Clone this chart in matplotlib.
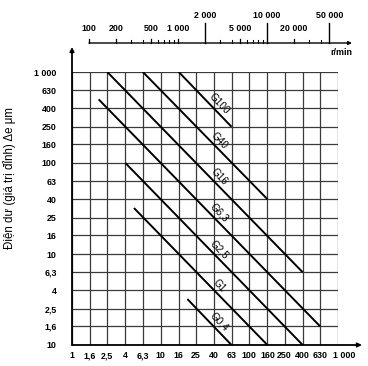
import numpy as np
import matplotlib
matplotlib.use("Agg")
import matplotlib.pyplot as plt
from matplotlib.transforms import ScaledTranslation

# axis ticks (log grid, 5 steps per decade)
tick_vals = [1, 1.6, 2.5, 4, 6.3, 10, 16, 25, 40, 63, 100, 160, 250, 400, 630, 1000]
x_labels = ["1", "1,6", "2,5", "4", "6,3", "10", "16", "25", "40", "63", "100", "160", "250", "400", "630", "1 000"]
y_labels = ["10", "1,6", "2,5", "4", "6,3", "10", "16", "25", "40", "63", "100", "160", "250", "400", "630", "1 000"]

# balance grade lines (start / end points)
grades = ["G100", "G40", "G16", "G6,3", "G2,5", "G1", "G0,4"]
x_start = [16, 6.3, 2.5, 2, 4, 5, 20]
y_start = [1000, 1000, 1000, 500, 100, 32, 3.2]
x_end = [63, 160, 400, 630, 400, 160, 63]
y_end = [250, 40, 6.3, 1.6, 1, 1, 1]
label_x = 40

# top speed scale r/min
rpm_major = [100, 200, 500, 1000, 5000, 20000]
rpm_long = [2000, 10000, 50000]
rpm_minor = [300, 400, 600, 700, 800, 900, 3000, 4000, 6000, 7000, 8000, 9000, 30000, 40000]
rpm_low_labels = ["100", "200", "500", "1 000", "5 000", "20 000"]
rpm_high_labels = ["2 000", "10 000", "50 000"]

W, H = 368, 366
fig = plt.figure(figsize=(W / 100, H / 100), dpi=100)
tf = dict(family="Liberation Sans", size=6.4, weight="bold")

# main chart, pixel box: x 72..338, y 72..345 (from top)
L, R, T, B = 72, 338, 72, 345
ax = fig.add_axes([L / W, (H - B) / H, (R - L) / W, (B - T) / H])
ax.set_xscale("log")
ax.set_yscale("log")
ax.set_xlim(1, 1000)
ax.set_ylim(1, 1000)
ax.xaxis.set_minor_locator(plt.NullLocator())
ax.yaxis.set_minor_locator(plt.NullLocator())
ax.set_xticks(tick_vals)
ax.set_xticklabels(x_labels, fontdict=tf)
ax.set_yticks(tick_vals)
ax.set_yticklabels(y_labels, fontdict=tf)
ax.tick_params(length=0)
ax.tick_params(axis="x", pad=4.5)
ax.tick_params(axis="y", pad=11)
# "1 000" sits a bit right of its grid line in the original
lab = ax.xaxis.get_major_ticks()[-1].label1
lab.set_transform(lab.get_transform() + ScaledTranslation(6 / 100, 0, fig.dpi_scale_trans))
for v in tick_vals:
    ax.axvline(v, color="#3a3a3a", lw=0.9, zorder=1)
    ax.axhline(v, color="#3a3a3a", lw=0.9, zorder=1)
for s in ax.spines.values():
    s.set_visible(False)

# axes with arrows
ax.annotate("", xy=(0, 1 + 25 / (B - T)), xytext=(0, 0), xycoords="axes fraction",
            arrowprops=dict(arrowstyle="-|>", color="black", lw=1.3, mutation_scale=6,
                            shrinkA=0, shrinkB=0), annotation_clip=False)
ax.annotate("", xy=(1 + 24 / (R - L), 0), xytext=(0, 0), xycoords="axes fraction",
            arrowprops=dict(arrowstyle="-|>", color="black", lw=1.3, mutation_scale=6,
                            shrinkA=0, shrinkB=0), annotation_clip=False)

for g, xs, ys, xe, ye in zip(grades, x_start, y_start, x_end, y_end):
    ax.plot([xs, xe], [ys, ye], color="black", lw=1.4, zorder=3, solid_capstyle="butt")
    ly = ys * xs / label_x
    ax.annotate(g, xy=(label_x, ly), xytext=(0.9, 0.9), textcoords="offset points",
                rotation=-46, rotation_mode="anchor", ha="center", va="bottom",
                family="Liberation Sans", size=7.2, zorder=4)

ax.set_ylabel("Điện dư (giá trị đỉnh) Δe μm", family="Liberation Sans", size=8.3)
ax.yaxis.set_label_coords(-(72 - 16) / (R - L), (B - 178) / (B - T))

# top scale r/min, pixel rows 10..50 from top
ax2 = fig.add_axes([L / W, (H - 50) / H, (R - L) / W, 40 / H])
ax2.set_xscale("log")
ppd = (267 - 89) / 2.0
ax2.set_xlim(100 * 10 ** (-(89 - L) / ppd), 100 * 10 ** ((R - 89) / ppd))
ax2.set_ylim(50, 10)
ax2.axis("off")
x_tip = 100 * 10 ** ((352 - 89) / ppd)
ax2.annotate("", xy=(x_tip, 43), xytext=(100, 43), xycoords="data",
             arrowprops=dict(arrowstyle="-|>", color="black", lw=1.0, mutation_scale=5,
                             shrinkA=0, shrinkB=0), annotation_clip=False)
for v in rpm_long:
    ax2.plot([v, v], [43, 23], color="black", lw=1.0, clip_on=False)
for v in rpm_major:
    ax2.plot([v, v], [43, 38.5], color="black", lw=0.9, clip_on=False)
for v in rpm_minor:
    ax2.plot([v, v], [43, 40], color="black", lw=0.8, clip_on=False)
for v, t in zip(rpm_major, rpm_low_labels):
    ax2.text(v, 28.5, t, ha="center", va="center", **tf)
for v, t in zip(rpm_long, rpm_high_labels):
    ax2.text(v, 15, t, ha="center", va="center", **tf)
ax2.text(x_tip, 52.5, "r/min", ha="right", va="center", **tf)

fig.savefig("out.png", dpi=100)
